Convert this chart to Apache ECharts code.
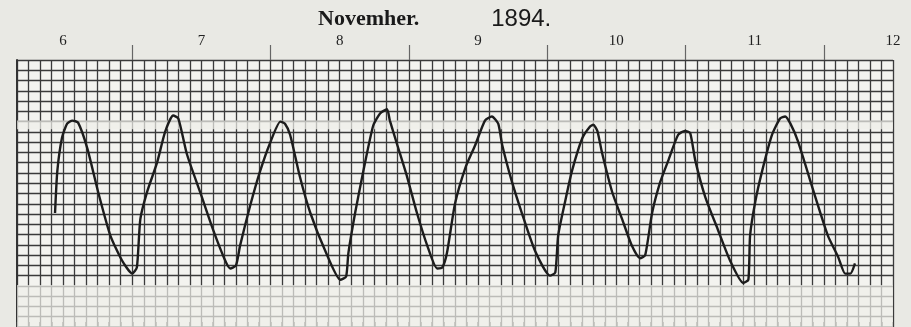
<!DOCTYPE html>
<html>
<head>
<meta charset="utf-8">
<script src="https://cdn.jsdelivr.net/npm/echarts@6/dist/echarts.min.js"></script>
<style>
html,body{margin:0;padding:0;background:#e9e9e4;}
#c{width:911px;height:327px;}
</style>
</head>
<body>
<div id="c"></div>
<script>
// Hours since 6 November 1894, 00h
const hours = [-1.4,-1.0,-0.2,0.7,1.6,2.6,4.2,6.1,8.2,10.2,12.0,12.8,13.4,14.6,16.3,17.7,19.1,20.0,21.5,23.8,26.0,28.1,29.0,30.0,30.7,32.5,34.2,35.9,37.7,38.5,39.4,41.1,42.9,45.5,48.1,49.1,49.5,50.7,52.1,53.8,55.0,56.2,56.7,58.0,59.7,61.4,63.2,64.9,65.8,66.6,68.0,69.8,71.5,73.2,74.4,75.5,76.2,77.9,79.6,81.9,84.5,85.4,85.9,87.1,88.3,90.1,91.4,92.0,92.7,93.5,95.3,97.0,98.7,100.1,101.0,102.2,103.6,105.0,106.7,107.9,108.8,109.7,111.4,113.6,115.7,118.0,118.9,119.2,120.1,121.3,123.0,124.4,125.3,126.2,127.5,130.5,132.7,134.5,135.7,136.6,137.4];
// Trace height in chart divisions
const trace = [11.1,15.2,18.4,19.8,20.1,19.9,17.4,13.1,8.9,6.5,5.2,5.8,10.5,13.2,16.0,19.0,20.6,20.3,16.8,13.1,9.5,6.5,5.7,6.0,7.9,11.9,15.2,17.9,20.0,19.8,18.7,14.6,11.1,7.4,4.6,4.9,7.2,11.2,15.2,19.6,20.8,21.2,20.1,17.7,14.6,11.1,7.9,5.7,5.8,7.2,12.0,15.5,17.7,20.1,20.5,19.8,17.7,14.1,11.1,7.4,5.0,5.3,8.9,12.2,15.2,18.4,19.5,19.7,19.1,17.0,13.1,10.5,7.9,6.7,7.0,11.1,14.1,16.2,18.7,19.1,18.9,16.2,12.7,9.5,6.5,4.3,4.6,8.9,12.2,15.2,18.7,20.3,20.5,19.8,18.1,12.7,8.9,6.8,5.2,5.2,6.2];
const dayLabelHours = [0,24,48,72,96,120,144];
const noonHours = [12,36,60,84,108,132];
const titleMonth = 'Novemher.';
const titleYear = '1894.';

const pts = hours.map((h,i)=>[h,trace[i]]);
const chart = echarts.init(document.getElementById('c'), null, {renderer:'canvas'});
chart.setOption({
  backgroundColor:'#e9e9e4',
  animation:false,
  title:{
    text:'{a|'+titleMonth+'}{b|'+titleYear+'}',
    left:313, top:2,
    textStyle:{rich:{
      a:{fontFamily:'Liberation Serif',fontWeight:'bold',fontSize:22,color:'#1a1a1a'},
      b:{fontFamily:'Liberation Sans Narrow, Liberation Sans',fontWeight:'normal',fontSize:24,color:'#1a1a1a',padding:[0,0,0,72]}
    }}
  },
  grid:{left:17,width:876,top:60,height:273,show:true,backgroundColor:'#f3f3ef',borderWidth:0},
  xAxis:[{
    type:'value',position:'top',min:-8,max:144,interval:2,
    axisLine:{show:true,lineStyle:{color:'#555',width:1.5}},
    axisTick:{show:true,inside:false,length:5,lineStyle:{color:'#444',width:1.5}},
    axisLabel:{show:false},
    splitLine:{show:true,lineStyle:{color:'#3a3a3a',width:1.3}}
  },{
    type:'value',position:'top',min:-8,max:144,
    axisLine:{show:false},
    axisTick:{show:true,length:15,customValues:noonHours,lineStyle:{color:'#666',width:1.2}},
    axisLabel:{show:true,customValues:dayLabelHours,margin:11,
      formatter:v=>String(6+Math.round(v/24)),
      fontFamily:'Liberation Serif',fontSize:15,color:'#222'},
    splitLine:{show:false}
  }],
  yAxis:{
    type:'value',min:0,max:26,interval:1,
    axisLine:{show:true,onZero:false,lineStyle:{color:'#333',width:2}},
    axisTick:{show:false},axisLabel:{show:false},
    splitLine:{show:true,lineStyle:{color:'#3a3a3a',width:1.3}}
  },
  series:[{
    type:'line',data:pts,xAxisIndex:0,smooth:0.2,showSymbol:false,z:3,
    lineStyle:{color:'#1c1c1c',width:2.4}
  },{
    type:'line',data:[],xAxisIndex:0,z:6,silent:true,
    markArea:{silent:true,itemStyle:{color:'rgba(238,238,233,0.72)'},
      data:[[{yAxis:19.25},{yAxis:20.1}],[{yAxis:0},{yAxis:4.1}]]}
  }]
});
</script>
</body>
</html>
